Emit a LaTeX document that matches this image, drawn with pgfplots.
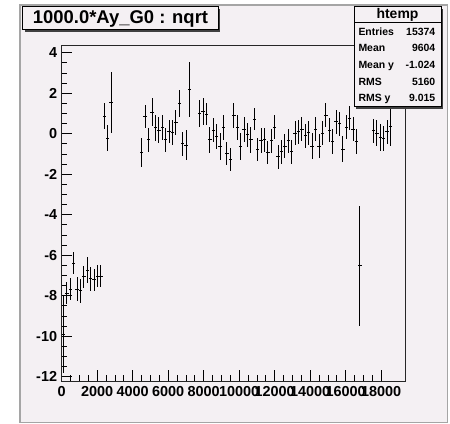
\documentclass[border=0pt]{standalone}
\usepackage{pgfplots}
\pgfplotsset{compat=1.18}
\usepackage{pgfplotstable}
\usepackage{fontspec}
\setmainfont{Liberation Sans}
\definecolor{canvasbg}{RGB}{244,240,243}
\definecolor{framegray}{RGB}{165,165,165}

\pgfplotstableread{
x y ey
96 -9.90 1.90
288 -7.88 0.55
480 -7.68 0.55
672 -6.39 0.55
864 -7.68 0.60
1056 -7.75 0.60
1248 -7.07 0.55
1440 -6.73 0.66
1632 -7.17 0.60
1824 -7.22 0.55
2016 -7.03 0.55
2208 -7.03 0.55
2400 0.87 0.63
2592 -0.23 0.64
2784 1.55 1.52
4512 -0.92 0.72
4704 0.84 0.58
4896 -0.31 0.58
5088 1.06 0.70
5280 0.30 0.64
5472 0.18 0.63
5664 0.30 0.62
5856 -0.31 0.58
6048 0.10 0.58
6240 0.07 0.62
6432 0.56 0.62
6624 1.50 0.66
6816 -0.50 0.58
7008 -0.56 0.72
7200 2.20 1.36
7776 1.00 0.66
7968 1.09 0.66
8160 0.97 0.56
8352 -0.31 0.64
8544 0.18 0.58
8736 -0.15 0.62
8928 -0.64 0.66
9120 0.30 0.62
9312 -0.98 0.55
9504 -1.27 0.55
9696 0.92 0.62
9888 0.32 0.62
10080 -0.64 0.66
10272 0.22 0.62
10464 -0.06 0.58
10656 -0.31 0.62
10848 0.71 0.54
11040 -0.77 0.58
11232 -0.35 0.62
11424 -0.31 0.60
11616 -0.94 0.58
11808 -0.35 0.60
12000 0.32 0.60
12192 -1.14 0.60
12384 -0.89 0.60
12576 -0.61 0.60
12768 -0.35 0.60
12960 -0.89 0.60
13152 0.02 0.60
13344 0.10 0.60
13536 0.22 0.60
13728 -0.11 0.60
13920 0.05 0.60
14112 -0.61 0.65
14304 0.23 0.60
14496 -0.61 0.60
14688 0.02 0.60
14880 0.92 0.60
15072 0.18 0.60
15264 -0.39 0.60
15456 0.59 0.60
15648 0.48 0.60
15840 -0.77 0.65
16032 0.32 0.60
16224 0.76 0.60
16416 0.22 0.60
16608 -0.39 0.60
16800 -6.52 2.95
17568 0.15 0.60
17760 0.02 0.65
17952 -0.18 0.65
18144 -0.23 0.60
18336 0.10 0.60
18528 0.35 0.95
}\profdata

\begin{document}
\begin{tikzpicture}
\useasboundingbox (0,0) rectangle (450bp,424bp);
\fill[white] (0,0) rectangle (450bp,424bp);
\fill[canvasbg] (20bp,1.3bp) rectangle (447.7bp,419bp);
\draw[framegray, line width=1.2bp] (20bp,1.3bp) rectangle (447.7bp,419bp);

\begin{axis}[
  at={(61.7bp,43bp)}, anchor=south west,
  scale only axis, width=344bp, height=335bp,
  xmin=0, xmax=19380, ymin=-12.21, ymax=4.33,
  scaled x ticks=false, scaled y ticks=false,
  axis line style={black!85, line width=1bp},
  tick pos=left, tick align=inside,
  major tick length=10.5bp, minor tick length=5.5bp,
  xtick={0,2000,...,18000},
  xticklabels={0,2000,4000,6000,8000,10000,12000,14000,16000,18000},
  ytick={-12,-10,...,4},
  yticklabels={-12,-10,-8,-6,-4,-2,0,2,4},
  minor x tick num=3, minor y tick num=3,
  tick style={black, line width=0.8bp},
  ticklabel style={font=\fontsize{14.5}{14.5}\selectfont\bfseries},
  xticklabel style={inner sep=0pt, anchor=north, yshift=-5.5bp},
  yticklabel style={inner sep=0pt, anchor=east, xshift=-4.4bp},
  axis background/.style={fill=canvasbg},
]
\addplot[draw=none, mark=none,
  error bars/.cd, x dir=both, x fixed=96, y dir=both, y explicit,
  error mark=none, error bar style={draw=black, line width=1bp}]
  table[x=x, y=y, y error=ey] {\profdata};
\end{axis}

% title box
\fill[black!75] (24.7bp,392bp) rectangle (220.3bp,415.3bp);
\filldraw[fill=canvasbg, draw=black, line width=1bp] (22.7bp,394bp) rectangle (218.3bp,417.3bp);
\node[inner sep=0pt] at (120.5bp,405.4bp) {\fontsize{18.5}{18.5}\selectfont\bfseries 1000.0*Ay\_G0 : nqrt};

% stats box
\fill[black!75] (356bp,315.3bp) rectangle (443bp,415bp);
\filldraw[fill=canvasbg, draw=black, line width=1bp] (354bp,317.3bp) rectangle (441bp,417bp);
\draw[black, line width=1bp] (354bp,401.3bp) -- (441bp,401.3bp);
\node[inner sep=0pt, anchor=base] at (397.5bp,405bp) {\fontsize{14}{14}\selectfont\bfseries htemp};
\begin{scope}[every node/.style={inner sep=0pt, font=\fontsize{10.5}{10.5}\selectfont\bfseries}]
\node[anchor=base west] at (358.3bp,388.3bp) {Entries};
\node[anchor=base east] at (435.5bp,388.3bp) {15374};
\node[anchor=base west] at (358.3bp,372bp) {Mean};
\node[anchor=base east] at (435.5bp,372bp) {9604};
\node[anchor=base west] at (358.3bp,355.3bp) {Mean y};
\node[anchor=base east] at (435.5bp,355.3bp) {-1.024};
\node[anchor=base west] at (358.3bp,338.6bp) {RMS};
\node[anchor=base east] at (435.5bp,338.6bp) {5160};
\node[anchor=base west] at (358.3bp,322.6bp) {RMS y};
\node[anchor=base east] at (435.5bp,322.6bp) {9.015};
\end{scope}
\end{tikzpicture}
\end{document}
